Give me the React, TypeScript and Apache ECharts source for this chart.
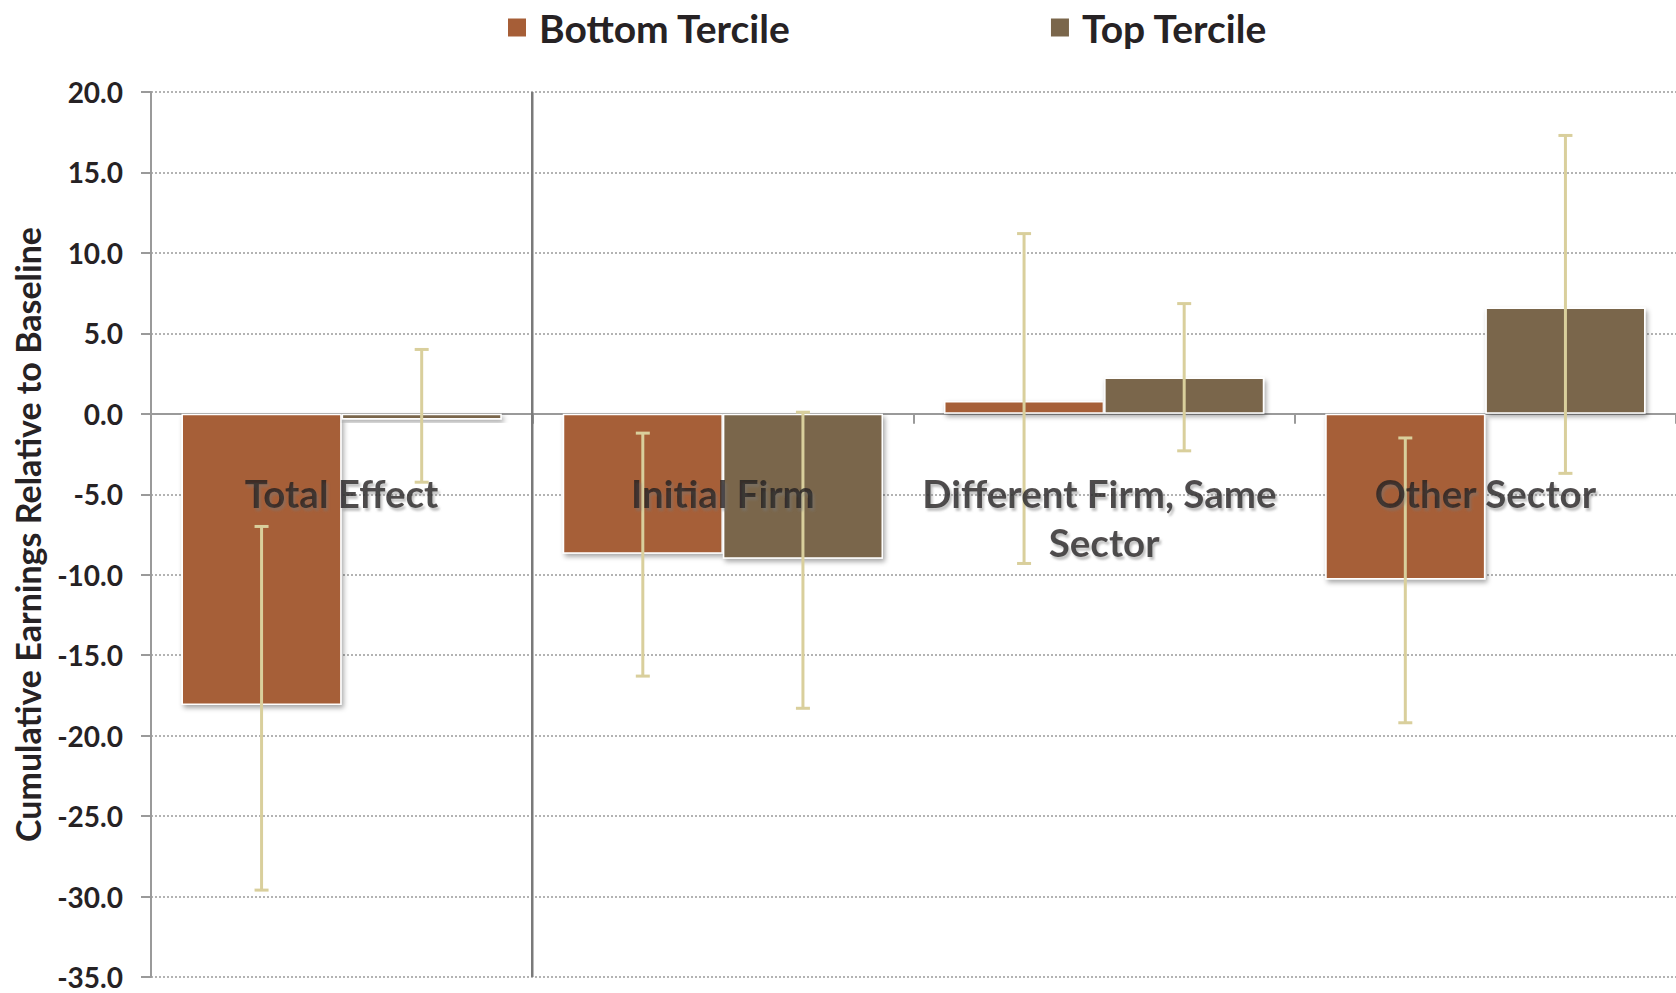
import React, { useEffect, useRef } from "react";
import * as echarts from "echarts";

// Categories and tercile estimates (cumulative earnings relative to baseline)
const categories = ["Total Effect", "Initial Firm", "Different Firm, Same Sector", "Other Sector"];
const bottomTercile = [-18.1, -8.7, 0.8, -10.3];
const topTercile = [-0.35, -9.0, 2.25, 6.6];

// Confidence interval bounds
const bottomLow = [-29.6, -16.3, -9.3, -19.2];
const bottomHigh = [-7.0, -1.2, 11.2, -1.5];
const topLow = [-4.25, -18.3, -2.3, -3.7];
const topHigh = [4.0, 0.1, 6.85, 17.3];

const yMin = -35;
const yMax = 20;
const yStep = 5;

// Boundary (in category units) separating the total effect from its components
const dividerAt = 1;

const FONT = "Lato";
const INK = "#262224";
const BOTTOM_COLOR = "#A65E37";
const TOP_COLOR = "#7A664B";
const ERR_COLOR = "#D9CF9C";
const CAT_GAP = 0.16;

function errorSeries(name: string, lows: number[], highs: number[], side: number) {
  return {
    type: "custom",
    name: name + " CI",
    coordinateSystem: "cartesian2d",
    z: 5,
    silent: true,
    data: lows.map((lo, i) => [i, lo, highs[i]]),
    renderItem: (_params: any, api: any) => {
      const idx = api.value(0);
      const bandW = api.size([1, 0])[0];
      const barW = (bandW * (1 - CAT_GAP)) / 2;
      const lowPt = api.coord([idx, api.value(1)]);
      const highPt = api.coord([idx, api.value(2)]);
      const x = lowPt[0] + (side * barW) / 2;
      const cap = 7;
      const style = { stroke: ERR_COLOR, lineWidth: 3 };
      return {
        type: "group",
        children: [
          { type: "line", shape: { x1: x, y1: lowPt[1], x2: x, y2: highPt[1] }, style },
          { type: "line", shape: { x1: x - cap, y1: lowPt[1], x2: x + cap, y2: lowPt[1] }, style },
          { type: "line", shape: { x1: x - cap, y1: highPt[1], x2: x + cap, y2: highPt[1] }, style },
        ],
      };
    },
  };
}

const barItemStyle = (color: string) => ({
  color,
  borderColor: "#ffffff",
  borderWidth: 1.5,
  shadowColor: "rgba(0,0,0,0.35)",
  shadowBlur: 5,
  shadowOffsetX: 2,
  shadowOffsetY: 3,
});

export default function App() {
  const ref = useRef<HTMLDivElement>(null);

  useEffect(() => {
    if (!ref.current) return;
    const chart = echarts.init(ref.current, null, { renderer: "svg" });
    chart.setOption({
      animation: false,
      backgroundColor: "#ffffff",
      textStyle: { fontFamily: FONT },
      legend: {
        left: 501,
        top: 3,
        itemWidth: 20,
        itemHeight: 20,
        itemGap: 258,
        icon: "rect",
        data: ["Bottom Tercile", "Top Tercile"],
        textStyle: {
          fontFamily: FONT,
          fontWeight: "bold",
          fontSize: 39,
          color: INK,
          padding: [0, 0, 0, 7],
        },
      },
      grid: { left: 151, right: 0, top: 92, bottom: 16, containLabel: false, outerBoundsMode: "none" },
      xAxis: [
        {
          type: "category",
          data: categories,
          axisLine: { onZero: true, lineStyle: { color: "#9a9a9a", width: 2 } },
          axisTick: { show: true, length: 10, lineStyle: { color: "#9a9a9a", width: 2 } },
          axisLabel: { show: false },
          splitLine: { show: false },
        },
        {
          type: "value",
          min: 0,
          max: categories.length,
          show: false,
        },
      ],
      yAxis: {
        type: "value",
        min: yMin,
        max: yMax,
        interval: yStep,
        name: "Cumulative Earnings Relative to Baseline",
        nameLocation: "middle",
        nameGap: 107,
        nameTextStyle: { fontFamily: FONT, fontWeight: "bold", fontSize: 34, color: INK },
        axisLine: { show: true, lineStyle: { color: "#9a9a9a", width: 2 } },
        axisTick: { show: true, length: 10, lineStyle: { color: "#9a9a9a", width: 2 } },
        axisLabel: {
          margin: 28,
          fontFamily: FONT,
          fontWeight: "bold",
          fontSize: 28,
          color: INK,
          formatter: (v: number) => v.toFixed(1),
        },
        splitLine: { show: true, lineStyle: { color: "#9a9a9a", width: 1.5, type: [2, 2] } },
      },
      series: [
        {
          type: "line",
          name: "divider",
          xAxisIndex: 1,
          data: [
            [dividerAt, yMin],
            [dividerAt, yMax],
          ],
          showSymbol: false,
          silent: true,
          z: 3,
          lineStyle: { color: "#7a7a7a", width: 2.5 },
        },
        {
          type: "bar",
          name: "Bottom Tercile",
          data: bottomTercile,
          barCategoryGap: CAT_GAP * 100 + "%",
          barGap: "0%",
          itemStyle: barItemStyle(BOTTOM_COLOR),
        },
        {
          type: "bar",
          name: "Top Tercile",
          data: topTercile,
          barCategoryGap: CAT_GAP * 100 + "%",
          barGap: "0%",
          itemStyle: barItemStyle(TOP_COLOR),
        },
        errorSeries("Bottom Tercile", bottomLow, bottomHigh, -1),
        errorSeries("Top Tercile", topLow, topHigh, 1),
        {
          // category names, anchored just below the zero line
          type: "scatter",
          name: "category labels",
          data: categories.map((_, i) => [i, 0]),
          symbolSize: 0,
          silent: true,
          z: 10,
          label: {
            show: true,
            position: "bottom",
            distance: 55,
            formatter: (p: any) => categories[p.dataIndex],
            fontFamily: FONT,
            fontWeight: "bold",
            fontSize: 38.5,
            lineHeight: 49,
            color: "#231f20",
            width: 370,
            overflow: "break",
            align: "center",
            textShadowColor: "rgba(120,120,120,0.55)",
            textShadowBlur: 2,
            textShadowOffsetX: 2,
            textShadowOffsetY: 3,
          },
        },
      ],
    });
    return () => chart.dispose();
  }, []);

  return (
    <div
      ref={ref}
      style={{ position: "fixed", left: 0, top: 0, width: 1676, height: 993, background: "#fff" }}
    />
  );
}
